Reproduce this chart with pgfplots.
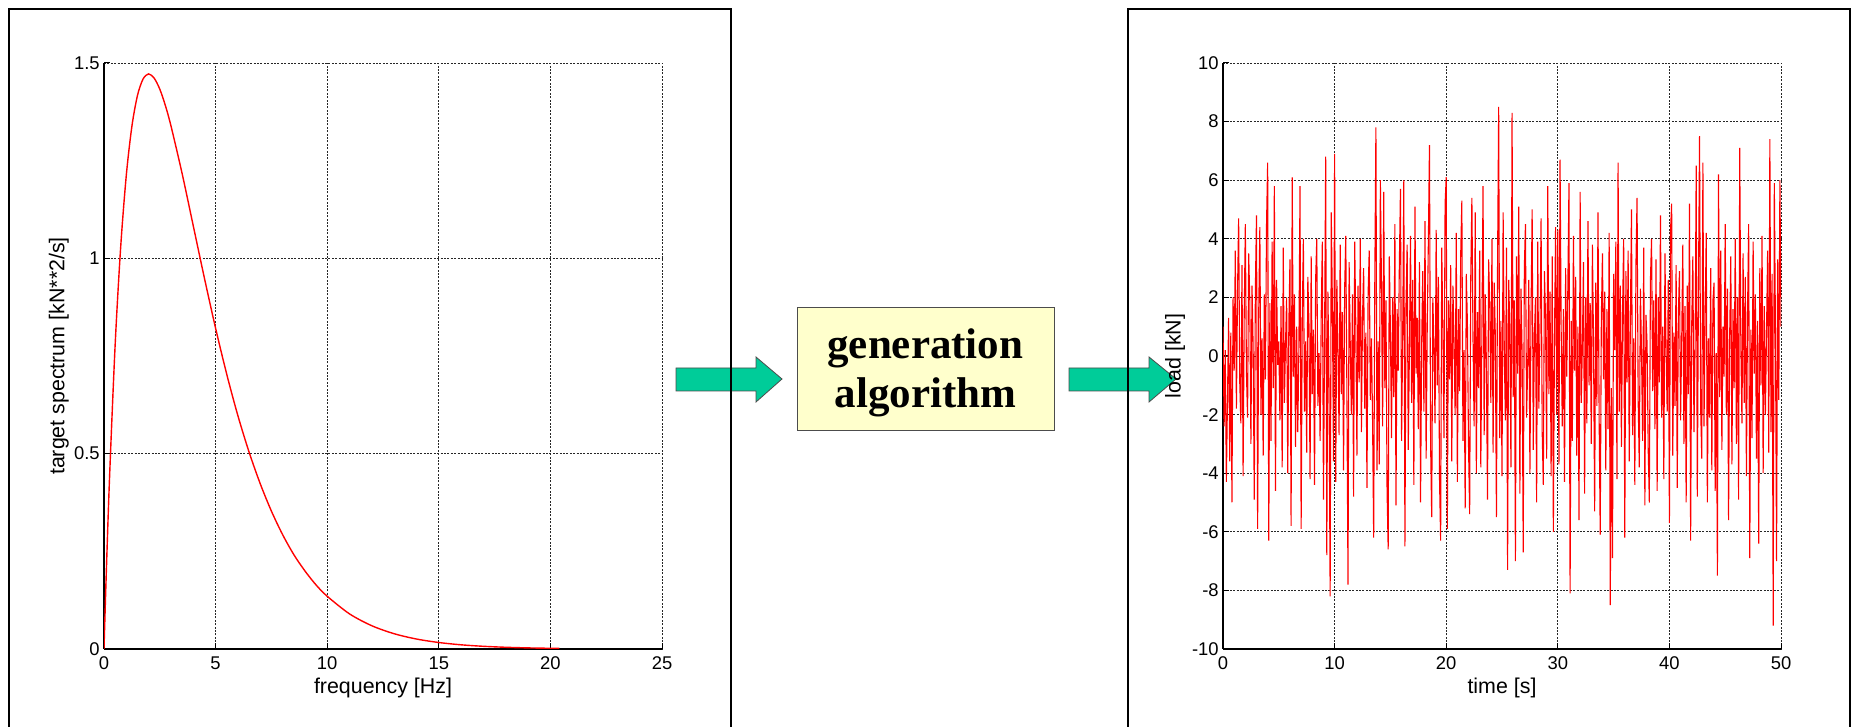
\documentclass[border=0pt]{standalone}
\usepackage{fontspec}
\setmainfont{Liberation Sans}
\newfontfamily\boxfont{Liberation Serif}
\usepackage{pgfplots}
\usepackage{pgfplotstable}
\pgfplotsset{compat=1.18}
\definecolor{arrowgreen}{RGB}{0,204,153}
\definecolor{boxyellow}{RGB}{255,255,204}

% target spectrum
\pgfplotstableread{
f S
0 0
0.1 0.190
0.25 0.441
0.5 0.779
0.75 1.031
1.0 1.213
1.25 1.338
1.5 1.417
1.75 1.459
2.0 1.472
2.25 1.461
2.5 1.433
2.75 1.391
3.0 1.339
3.5 1.217
4.0 1.083
4.5 0.949
5.0 0.821
5.5 0.703
6.0 0.597
6.5 0.504
7.0 0.423
7.5 0.353
8.0 0.293
8.5 0.242
9.0 0.200
9.5 0.164
10 0.135
11 0.0899
12 0.0595
13 0.0391
14 0.0255
15 0.0166
16 0.0107
17 0.0069
18 0.0044
19 0.0028
20 0.0018
20.4 0.0015
}\spectrum

% load history, one value every 0.1 s (rows = 1 s)
\pgfplotstableread{
v
1.0
-2.4
0.2
-4.3
-1.5
1.3
-3.6
0.8
-5.0
2.0
-0.5
3.6
-1.8
2.2
4.7
-0.9
-2.3
3.1
-4.1
1.4
4.5
-0.6
-2.1
3.5
1.9
-3.0
2.4
0.3
-4.9
2.3
4.8
-5.9
1.5
4.4
-2.0
0.6
-3.4
2.1
-0.8
4.5
6.6
-6.3
1.8
-2.9
3.9
-1.1
5.8
-4.6
2.6
-0.3
0.5
-2.2
1.7
-3.8
3.7
-1.6
0.4
2.0
-4.0
1.1
3.3
-5.8
6.1
-0.7
2.1
-3.1
1.0
-2.6
0.3
5.8
-5.9
1.2
4.0
-1.9
0.5
-3.3
2.7
1.1
-4.2
3.4
-1.3
0.9
-4.4
2.6
4.0
-1.7
0.1
-2.9
1.4
3.9
-4.9
0.6
6.8
-6.8
2.2
-1.0
-8.2
4.9
1.8
-3.6
6.9
-4.3
2.6
0.2
-2.7
3.8
-1.3
1.5
-3.9
2.3
4.1
-1.2
-7.8
3.2
0.4
-2.0
2.1
-4.8
3.9
1.0
-3.4
2.4
-0.9
4.0
-2.6
1.3
3.0
-1.8
0.8
-4.5
2.1
3.6
-1.5
0.6
-2.2
-6.2
2.5
7.8
-3.9
0.5
-3.7
6.0
2.4
-2.4
5.6
-1.1
1.9
-4.6
-6.6
3.4
0.9
-2.8
2.0
-1.4
4.5
-5.1
1.6
-0.5
3.1
5.7
-2.9
0.7
6.0
-6.5
1.8
3.8
-3.2
0.1
4.1
-1.6
2.6
-4.4
5.1
-0.6
1.3
-2.5
3.2
-5.0
0.4
2.9
-1.9
4.6
-3.5
1.0
3.9
7.2
-3.0
-5.5
2.0
0.3
-2.3
4.3
-1.0
2.7
-4.2
-6.3
3.7
0.8
-2.8
5.2
6.1
-5.9
1.9
-0.8
3.1
-3.6
2.4
0.5
-2.0
4.2
-4.3
1.6
-1.2
3.5
5.3
-2.9
0.2
-5.2
2.8
1.1
-3.1
-5.4
2.7
5.4
0.6
-2.4
4.9
-4.0
1.5
-1.1
3.6
-3.8
0.9
5.8
-2.7
2.1
-0.3
-4.9
3.3
1.8
-1.6
4.0
-3.3
2.5
0.7
-5.5
3.1
8.5
-2.8
1.2
-4.1
4.9
0.3
-2.2
3.7
-7.3
2.6
0.9
-3.8
8.3
-1.4
1.9
-7.0
3.4
-0.6
5.1
-4.7
2.3
0.1
-6.7
3.0
4.5
-2.1
-0.4
2.6
-4.0
1.5
5.0
-3.2
0.6
2.0
-5.0
3.9
-1.8
0.8
4.7
-2.6
-4.4
2.9
1.3
-3.5
5.8
-1.3
2.2
-4.1
3.4
-6.0
0.5
4.4
-2.0
4.3
-3.7
6.7
0.9
-2.4
1.6
-4.3
3.0
-0.7
2.4
5.9
-8.1
1.2
-2.9
4.1
-0.5
2.7
-3.4
1.0
-5.6
5.6
-1.6
0.3
3.2
-4.7
2.0
-2.3
4.6
-1.0
1.8
-3.0
3.8
0.4
-5.3
2.5
-1.7
4.9
-2.0
-6.1
1.3
3.5
-0.8
2.2
-3.9
1.6
-2.5
4.2
-8.5
-1.1
-6.9
2.8
0.2
3.9
-4.2
6.6
-1.9
2.4
-3.1
1.5
4.0
-6.2
2.9
-0.9
3.6
-3.6
1.1
5.0
-2.7
0.6
-4.4
3.1
5.4
-1.5
-3.8
2.3
0.1
-2.9
3.7
-5.1
1.4
0.4
-3.2
-5.0
2.6
4.0
-1.2
1.9
-2.5
3.3
-4.6
2.0
-0.9
4.8
-2.1
1.0
-4.2
3.5
0.2
-1.9
2.6
-5.7
4.3
5.2
-3.4
0.8
-1.7
3.1
-4.5
1.4
2.9
-2.2
0.5
3.8
-3.0
1.7
-5.0
2.4
-1.3
5.2
-6.3
1.1
3.4
-2.6
0.3
6.5
-4.8
2.2
7.5
-1.8
-3.5
6.6
-2.4
1.3
4.2
-5.0
0.6
-2.1
3.0
-3.9
1.9
2.5
-4.6
0.1
-7.5
6.2
-1.4
3.6
-3.2
1.0
-0.7
4.5
-2.0
2.3
-5.6
0.7
3.4
-3.7
1.6
-1.1
4.0
-3.0
2.0
-4.9
7.1
0.4
-2.3
3.5
-1.6
2.7
-4.1
1.5
4.5
-6.9
0.9
-2.8
3.9
-0.6
2.1
-3.5
1.2
-6.4
3.0
-1.0
4.1
-4.0
1.7
-2.0
0.8
3.6
-3.3
7.4
-2.6
2.8
-9.2
5.9
1.0
-7.0
3.3
-1.5
6.0
1.0
}\loadhist

\pgfplotsset{
  panel/.style={
    scale only axis,
    anchor=south west,
    width=279pt, height=293pt,
    axis x line*=bottom, axis y line*=left,
    axis line style={-, black, line width=0.6pt},
    tick align=inside, major tick length=3pt,
    tick style={black, line width=0.5pt},
    grid=major,
    major grid style={black!85, line width=0.45pt, dash pattern=on 1pt off 0.7pt},
    ticklabel style={font=\fontsize{9.2}{11}\selectfont},
    xticklabel style={inner sep=0pt, yshift=-3.5pt},
    yticklabel style={inner sep=0pt, xshift=-2pt},
    label style={font=\fontsize{10.7}{12}\selectfont},
    xlabel style={at={(axis description cs:0.5,-0.066)}, anchor=center},
  }
}

\begin{document}
\begin{tikzpicture}
\useasboundingbox (0,0) rectangle (925.5pt,363.5pt);

% block arrows
\draw[black!70, line width=0.4pt, fill=arrowgreen]
  (338pt,168pt) -- (378pt,168pt) -- (378pt,162.5pt) -- (391pt,174pt)
  -- (378pt,185pt) -- (378pt,179.5pt) -- (338pt,179.5pt) -- cycle;
\draw[black!70, line width=0.4pt, fill=arrowgreen]
  (534.5pt,168pt) -- (574.5pt,168pt) -- (574.5pt,162.5pt) -- (588pt,174pt)
  -- (574.5pt,185pt) -- (574.5pt,179.5pt) -- (534.5pt,179.5pt) -- cycle;

% panel frames
\draw[black, line width=1pt] (4.5pt,0pt) -- (4.5pt,359pt) -- (365.5pt,359pt) -- (365.5pt,0pt);
\draw[black, line width=1pt] (564pt,0pt) -- (564pt,359pt) -- (925pt,359pt) -- (925pt,0pt);

% generation box
\draw[black!70, line width=0.5pt, fill=boxyellow] (398.5pt,148pt) rectangle (527pt,209.5pt);
\node[anchor=base, inner sep=0pt, font=\boxfont\bfseries\fontsize{21.5}{24}\selectfont] at (462.7pt,184pt) {generation};
\node[anchor=base, inner sep=0pt, font=\boxfont\bfseries\fontsize{21.5}{24}\selectfont] at (462.7pt,159.5pt) {algorithm};

\begin{axis}[panel, at={(52pt,39pt)},
    xmin=0, xmax=25, ymin=0, ymax=1.5,
    xtick={0,5,10,15,20,25}, xticklabels={0,5,10,15,20,25},
    ytick={0,0.5,1,1.5}, yticklabels={0,0.5,1,1.5},
    xlabel={frequency [Hz]},
    ylabel={target spectrum [kN**2/s]},
    ylabel style={at={(axis description cs:-0.081,0.5)}, anchor=center},
]
\addplot[red, line width=0.7pt, smooth] table[x=f, y=S] {\spectrum};
\end{axis}

\begin{axis}[panel, at={(611.5pt,39pt)},
    xmin=0, xmax=50, ymin=-10, ymax=10,
    xtick={0,10,20,30,40,50}, xticklabels={0,10,20,30,40,50},
    ytick={-10,-8,-6,-4,-2,0,2,4,6,8,10},
    yticklabels={-10,-8,-6,-4,-2,0,2,4,6,8,10},
    xlabel={time [s]},
    ylabel={load [kN]},
    ylabel style={at={(axis description cs:-0.086,0.5)}, anchor=center},
]
\addplot[red, line width=0.55pt] table[x expr=\coordindex/10, y=v] {\loadhist};
\end{axis}
\end{tikzpicture}
\end{document}
